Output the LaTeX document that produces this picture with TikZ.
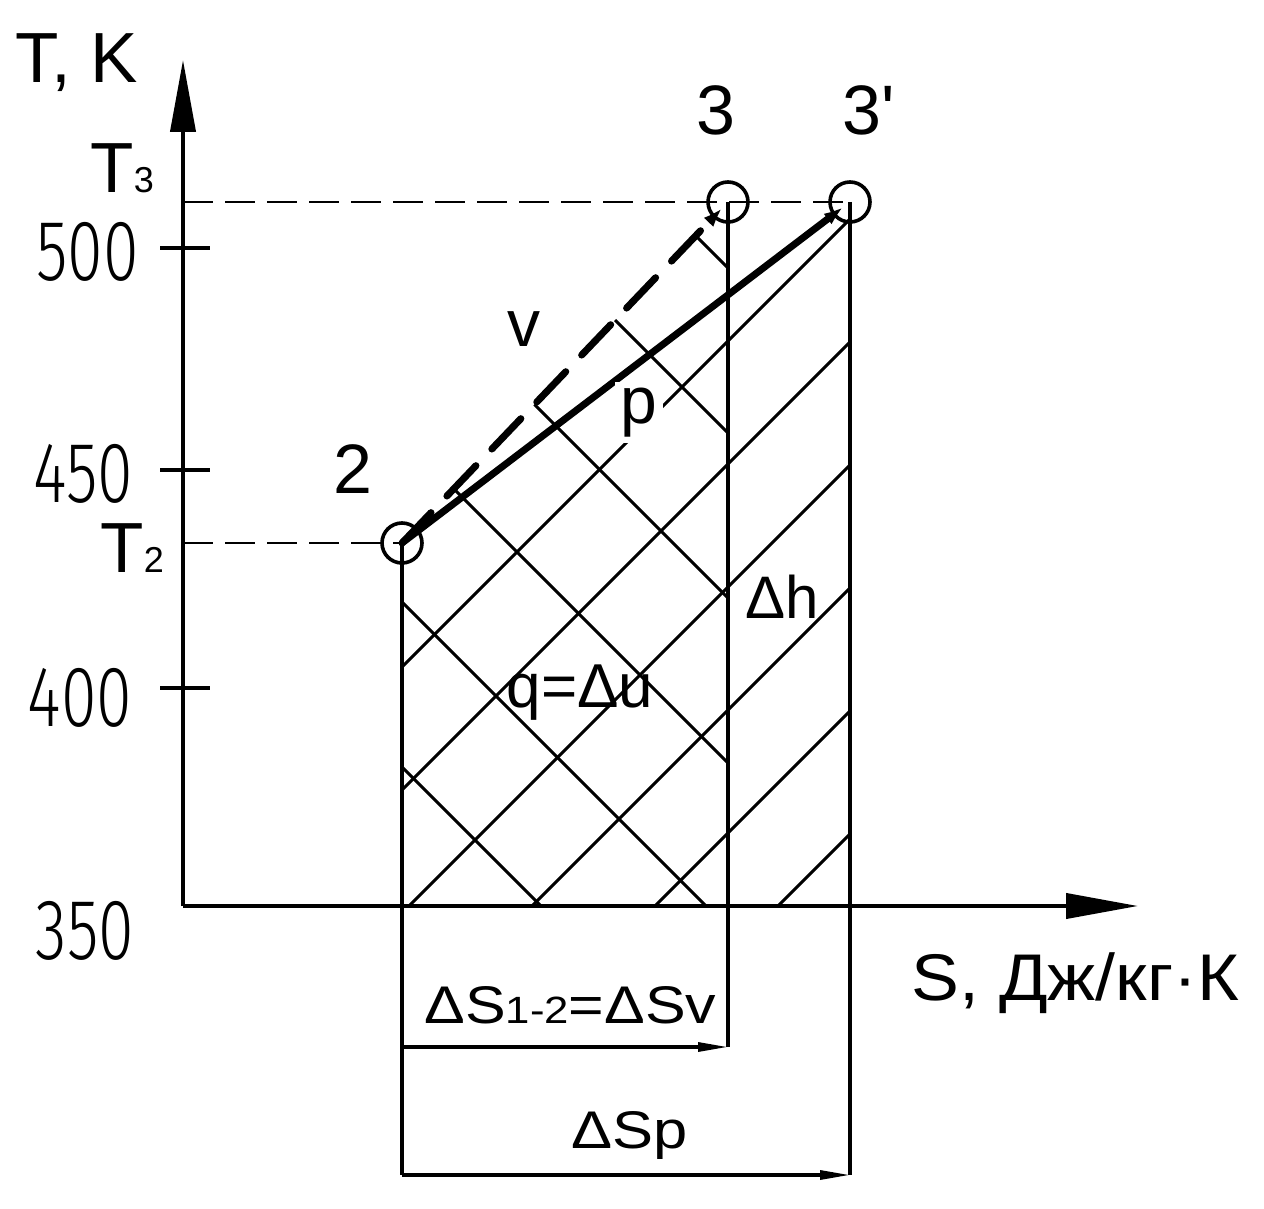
\documentclass[tikz,border=0pt]{standalone}
\usepackage{fontspec}
\setmainfont{Liberation Sans}
\newfontfamily\noligf{Liberation Sans}[Ligatures=ResetAll]
\IfFontExistsTF{Fira Sans Light}{\newfontfamily\thinf{Fira Sans Light}}{\newfontfamily\thinf{Liberation Sans}}
\usetikzlibrary{arrows.meta}
\begin{document}
\begin{tikzpicture}[x=0.5pt,y=-0.5pt,
  axisl/.style={line width=2pt,-{Triangle[length=36pt,width=12.5pt]}},
  thinl/.style={line width=1.6pt},
  hatchl/.style={line width=1.5pt},
  helper/.style={line width=1.35pt,dash pattern=on 15pt off 6pt},
  proc/.style={line width=3.5pt,-{Latex[length=14pt,width=6pt]}},
  vproc/.style={line width=3.5pt,line cap=round,dash pattern=on 21pt off 11.5pt,-{Latex[length=14pt,width=6pt]}},
  ptc/.style={circle,draw,line width=1.8pt,minimum size=20pt,inner sep=0pt},
  lbl/.style={inner sep=0pt},
  ticklbl/.style={font=\thinf\fontsize{43}{50}\selectfont,inner sep=0pt},
  diml/.style={line width=1.6pt,-{Triangle[length=15pt,width=4.5pt]}}]
\useasboundingbox (0,0) rectangle (1264,1209);
% key points
\coordinate (O) at (183,906);
\coordinate (Ytip) at (183,60);
\coordinate (Xtip) at (1138,906);
\coordinate (yT3) at (183,202);
\coordinate (yT2) at (183,543);
\coordinate (d1a) at (402,1047);
\coordinate (d1b) at (728,1047);
\coordinate (d2a) at (402,1175);
\coordinate (d2b) at (850,1175);
\node[ptc] (p2) at (402,543) {};
\node[ptc] (p3) at (728,202) {};
\node[ptc] (p3p) at (850,202) {};
% hatching "/" under p-line
\begin{scope}
\clip (p2.center) -- (p3p.center) -- (850,906) -- (402,906) -- cycle;
\foreach \c in {1069,1192,1315,1438,1561,1684}
  \draw[hatchl] (\c-1000,1000) -- (\c-100,100);
\end{scope}
% hatching "\" under v-line
\begin{scope}
\clip (p2.center) -- (p3.center) -- (728,906) -- (402,906) -- cycle;
\foreach \d in {-365,-200,-35,130,295,460}
  \draw[hatchl] (\d+100,100) -- (\d+1000,1000);
\end{scope}
% axes
\draw[axisl] (O) -- (Ytip);
\draw[axisl] (O) -- (Xtip);
% ticks
\foreach \yy/\lab/\xx/\ly in {248/500/87.5/251.5,470/450/83/474,688/400/80/698}{
  \draw[thinl] (160,\yy) -- (210,\yy);
  \node[ticklbl] (tk\lab) at (\xx,\ly) {\scalebox{0.75}[1]{\lab}};
}
\node[ticklbl] (tk350) at (85,931) {\scalebox{0.75}[1]{350}};
% helper dashed lines
\draw[helper] (yT3) -- (p3p.center);
\draw[helper] (yT2) -- (p2.center);
% verticals
\draw[thinl] (p2.center) -- (d2a);
\draw[thinl] (p3.center) -- (d1b);
\draw[thinl] (p3p.center) -- (d2b);
% processes
\draw[vproc] (p2.center) -- (p3.center);
\draw[proc] (p2.center) -- (p3p.center);
% dimension arrows
\draw[diml] (d1a) -- (d1b);
\draw[diml] (d2a) -- (d2b);
% labels
\node[lbl,anchor=base,font=\fontsize{35.5}{40}\selectfont] (TK) at (77,83) {T, K};
\node[lbl,anchor=base west,font=\fontsize{35.5}{40}\selectfont] (T3) at (90,193) {T{\fontsize{18}{20}\selectfont 3}};
\node[lbl,anchor=base west,font=\fontsize{35.5}{40}\selectfont] (T2) at (100,572) {T{\fontsize{18}{20}\selectfont 2}};
\node[lbl,anchor=base,font=\fontsize{35}{40}\selectfont] (l3) at (716,135) {3};
\node[lbl,anchor=base west,font=\noligf\fontsize{35}{40}\selectfont] (l3p) at (842,135) {3'};
\node[lbl,anchor=base,font=\fontsize{35}{40}\selectfont] (l2) at (353,493) {2};
\node[lbl,anchor=base,font=\fontsize{33}{40}\selectfont] (lv) at (524,347) {v};
\node[lbl,anchor=base,font=\fontsize{33}{40}\selectfont,fill=white,inner sep=3pt] (lp) at (639,423) {p};
\node[lbl,anchor=base,font=\fontsize{30}{36}\selectfont] (ldh) at (782,618) {Δh};
\node[lbl,anchor=base,font=\fontsize{31}{36}\selectfont] (lq) at (580,707) {q=Δu};
\node[lbl,anchor=base west,font=\fontsize{33}{40}\selectfont] (lS) at (911,1000) {\scalebox{1.087}[1]{S, Дж/кг·К}};
\node[lbl,anchor=base west,font=\fontsize{26.5}{32}\selectfont] (lds) at (424,1023) {\scalebox{1.15}[1]{ΔS{\fontsize{19}{22}\selectfont 1-2}=ΔSv}};
\node[lbl,anchor=base,font=\fontsize{26.5}{32}\selectfont] (ldsp) at (630,1148) {\scalebox{1.16}[1]{ΔSp}};
\end{tikzpicture}
\end{document}
